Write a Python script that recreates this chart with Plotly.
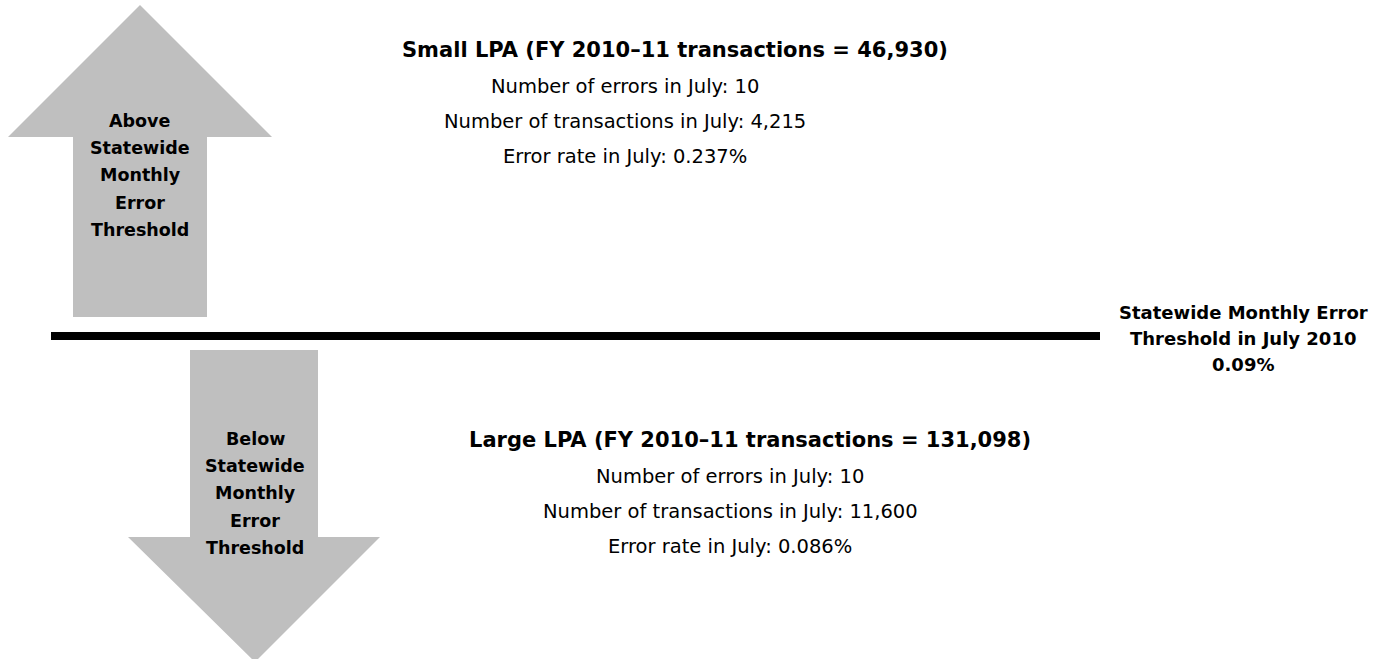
import plotly.graph_objects as go

# ---- data ----
groups = ["Small LPA", "Large LPA"]
fy_transactions = [46930, 131098]
july_errors = [10, 10]
july_transactions = [4215, 11600]
july_error_rate = [0.237, 0.086]
threshold_rate = 0.09
above_label = ["Above", "Statewide", "Monthly", "Error", "Threshold"]
below_label = ["Below", "Statewide", "Monthly", "Error", "Threshold"]
threshold_label = ["Statewide Monthly Error", "Threshold in July 2010", f"{threshold_rate:.2f}%"]

W, H = 1389, 659
FONT = "DejaVu Sans"
GRAY = "#BFBFBF"

fig = go.Figure()

# layout geometry (pixel space)
up = dict(tip=(140, 5), head_y=137, head_l=8, head_r=272, sh_l=73, sh_r=207, bottom=317)
dn = dict(top=350, sh_l=190, sh_r=318, head_y=537, head_l=128, head_r=380, tip=(255, 662))

up_path = (f"M {up['tip'][0]} {up['tip'][1]} L {up['head_r']} {up['head_y']} L {up['sh_r']} {up['head_y']} "
           f"L {up['sh_r']} {up['bottom']} L {up['sh_l']} {up['bottom']} L {up['sh_l']} {up['head_y']} "
           f"L {up['head_l']} {up['head_y']} Z")
dn_path = (f"M {dn['sh_l']} {dn['top']} L {dn['sh_r']} {dn['top']} L {dn['sh_r']} {dn['head_y']} "
           f"L {dn['head_r']} {dn['head_y']} L {dn['tip'][0]} {dn['tip'][1]} L {dn['head_l']} {dn['head_y']} "
           f"L {dn['sh_l']} {dn['head_y']} Z")

shapes = [
    dict(type="path", path=up_path, xref="x", yref="y", fillcolor=GRAY, line=dict(width=0), layer="below"),
    dict(type="path", path=dn_path, xref="x", yref="y", fillcolor=GRAY, line=dict(width=0), layer="below"),
    dict(type="line", x0=51, x1=1100, y0=336, y1=336, xref="x", yref="y", line=dict(color="black", width=8)),
]

ann = []
def add(text, x, y, size, bold=False):
    ann.append(dict(text=f"<b>{text}</b>" if bold else text, x=x, y=y, xref="x", yref="y",
                    showarrow=False, xanchor="center", yanchor="middle",
                    font=dict(family=FONT, size=size, color="black")))

for i, t in enumerate(above_label):
    add(t, 140, 121 + i * 27.2, 17.5, True)
for i, t in enumerate(below_label):
    add(t, 255, 439 + i * 27.2, 17.5, True)
for i, t in enumerate(threshold_label):
    add(t, 1243, 312 + i * 26, 18, True)

blocks = [dict(title_x=675, body_x=625, y0=50), dict(title_x=750, body_x=730, y0=440)]
for g, b in enumerate(blocks):
    add(f"{groups[g]} (FY 2010\u201311 transactions = {fy_transactions[g]:,})", b["title_x"], b["y0"], 21, True)
    add(f"Number of errors in July: {july_errors[g]}", b["body_x"], b["y0"] + 36, 19.5)
    add(f"Number of transactions in July: {july_transactions[g]:,}", b["body_x"], b["y0"] + 71, 19.5)
    add(f"Error rate in July: {july_error_rate[g]:.3f}%", b["body_x"], b["y0"] + 106, 19.5)

fig.update_layout(
    width=W, height=H, margin=dict(l=0, r=0, t=0, b=0),
    paper_bgcolor="white", plot_bgcolor="white",
    xaxis=dict(range=[0, W], visible=False, fixedrange=True),
    yaxis=dict(range=[H, 0], visible=False, fixedrange=True),
    shapes=shapes, annotations=ann, showlegend=False,
)
fig.write_html("out.html", config={"displayModeBar": False},
               post_script="document.body.style.margin='0';document.body.style.overflow='hidden';")
